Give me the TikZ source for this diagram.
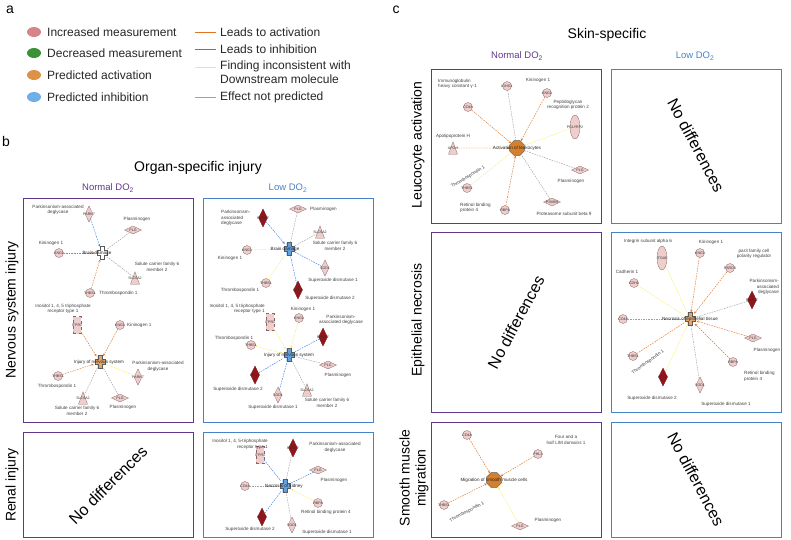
\documentclass[tikz,border=0pt]{standalone}
\usepackage{fontspec}
\setmainfont{Liberation Sans}
\usetikzlibrary{arrows.meta,shapes.geometric}
\definecolor{incpink}{RGB}{214,132,138}
\definecolor{decgreen}{RGB}{60,145,55}
\definecolor{predorange}{RGB}{222,146,72}
\definecolor{predblue}{RGB}{110,175,232}
\definecolor{actline}{RGB}{225,115,35}
\definecolor{inhline}{RGB}{60,125,215}
\definecolor{incline}{RGB}{248,236,90}
\definecolor{nopline}{RGB}{160,160,160}
\definecolor{genefill}{RGB}{238,205,205}
\definecolor{geneline}{RGB}{140,100,100}
\definecolor{darkred}{RGB}{150,20,25}
\definecolor{normpurple}{RGB}{100,55,140}
\definecolor{lowblue}{RGB}{70,130,200}
\definecolor{hubblue}{RGB}{100,160,220}
\definecolor{huborange}{RGB}{228,165,105}
\definecolor{octorange}{RGB}{212,128,45}
\definecolor{hubline}{RGB}{90,90,90}
\newcommand{\gn}[1]{\makebox[0pt]{#1}}
\newcommand{\genefont}{\fontsize{3.6}{4}\selectfont}
\newcommand{\lblfont}{\fontsize{4.6}{5.6}\selectfont}
\tikzset{
  pics/plusmark/.style={code={
    \filldraw[draw=hubline, line width=0.35pt, fill=#1]
      (-2.3,-6.5) -- (2.3,-6.5) -- (2.3,-2.5) -- (5,-2.5) -- (5,2.5) -- (2.3,2.5)
      -- (2.3,6.5) -- (-2.3,6.5) -- (-2.3,2.5) -- (-5,2.5) -- (-5,-2.5) -- (-2.3,-2.5) -- cycle;
  }}
}
\begin{document}
\begin{tikzpicture}[x=1pt, y=-1pt,
    gbase/.style={draw=geneline, fill=genefill, line width=0.3pt, inner sep=0, font=\genefont, text=black!80},
    gene/.style={gbase, circle, minimum size=9},
    gdia/.style={gbase, diamond, minimum width=8, minimum height=16},
    gdark/.style={gdia, fill=darkred, draw=darkred!70!black, minimum width=9, minimum height=18},
    hdia/.style={gbase, diamond, minimum width=17, minimum height=8},
    gtrap/.style={gbase, trapezium, trapezium left angle=70, trapezium right angle=70, minimum width=9, minimum height=7},
    grect/.style={gbase, rectangle, dashed, minimum width=8, minimum height=17},
    gell/.style={gbase, ellipse, minimum width=10, minimum height=24},
    hub/.style={circle, minimum size=13, inner sep=0},
    octo/.style={regular polygon, regular polygon sides=8, minimum size=16, inner sep=0, draw=hubline, line width=0.35pt, fill=octorange},
    lbl/.style={font=\lblfont, align=center, text=black!75, inner sep=0},
    hubtxt/.style={font=\lblfont, text=black!85, inner sep=0},
    edge/.style={line width=0.45pt, dash pattern=on 1.6pt off 1pt},
    act/.style={edge, draw=actline},
    inh/.style={edge, draw=inhline},
    inc/.style={edge, draw=incline},
    nop/.style={edge, draw=nopline},
    tip/.style={-{Stealth[length=2.6pt,width=2.2pt]}},
    normbox/.style={draw=normpurple, line width=0.8pt},
    lowbox/.style={draw=lowblue, line width=0.8pt},
    panel/.style={font=\fontsize{14}{16}\selectfont},
    title/.style={font=\fontsize{14}{16}\selectfont},
    rowtxt/.style={font=\fontsize{14}{16}\selectfont, align=center, rotate=90},
    normtxt/.style={font=\fontsize{9.5}{11}\selectfont, text=normpurple},
    lowtxt/.style={font=\fontsize{9.5}{11}\selectfont, text=lowblue},
    legdot/.style={ellipse, minimum width=14, minimum height=10, inner sep=0},
    legtxt/.style={font=\fontsize{12}{14}\selectfont, anchor=west, align=left, text=black!85, inner sep=0},
    nodiff/.style={font=\fontsize{16}{18}\selectfont}
  ]
\useasboundingbox (0,0) rectangle (791,539);

% Panel a: legend
\node[panel] (pa) at (10,10) {a};
\node[legdot, fill=incpink] (dinc) at (34,32) {};
\node[legdot, fill=decgreen] (ddec) at (34,53) {};
\node[legdot, fill=predorange] (dact) at (34,75) {};
\node[legdot, fill=predblue] (dinh) at (34,97) {};
\node[legtxt] at (47,32) {Increased measurement};
\node[legtxt] at (47,53) {Decreased measurement};
\node[legtxt] at (47,75) {Predicted activation};
\node[legtxt] at (47,97) {Predicted inhibition};
\foreach \yy/\cc [count=\i] in {32/actline, 49/inhline, 67/incline, 97/nopline} {
  \coordinate (lsA\i) at (195,\yy);
  \coordinate (lsB\i) at (216,\yy);
  \draw[\cc, line width=0.7pt] (lsA\i) -- (lsB\i);
}
\node[legtxt] at (220,32) {Leads to activation};
\node[legtxt] at (220,49) {Leads to inhibition};
\node[legtxt] at (220,72) {Finding inconsistent with\\Downstream molecule};
\node[legtxt] at (220,97) {Effect not predicted};

% Panel b: organ-specific injury
\node[panel] (pb) at (6,141) {b};
\node[title] at (198,168) {Organ-specific injury};
\node[normtxt] at (108,188) {Normal DO\textsubscript{2}};
\node[lowtxt] at (288,188) {Low DO\textsubscript{2}};
\node[rowtxt] at (12,310) {Nervous system injury};
\node[rowtxt] at (12,485) {Renal injury};
\draw[normbox] (23,198) rectangle (193,422);
\draw[lowbox] (203,198) rectangle (373,422);
\draw[normbox] (23,432) rectangle (193,537);
\draw[lowbox] (203,432) rectangle (373,537);
\node[nodiff, rotate=45] at (108,485) {No differences};

% Normal DO2, brain damage
\node[hub] (hubA) at (102,253) {};
\pic at (hubA) {plusmark=white};
\node[gdia] (park7A) at (89,214) {\gn{PARK7}};
\node[hdia] (plgA) at (133,230) {\gn{PLG}};
\node[gene] (kng1A) at (59,253) {\gn{KNG1}};
\node[gtrap] (slcA) at (135,278) {\gn{SLC6A2}};
\node[gene] (thbsA) at (90,293) {\gn{THBS1}};
\draw[inh, tip] (park7A) -- (hubA);
\draw[nop] (plgA) -- (hubA);
\draw[act, tip] (kng1A) -- (hubA);
\draw[nop] (slcA) -- (hubA);
\draw[act, tip] (thbsA) -- (hubA);
\node[hubtxt] at (97,253) {Brain damage};
\node[lbl] at (58,210) {Parkinsonism-associated\\deglycase};
\node[lbl] at (137,219) {Plasminogen};
\node[lbl] at (51,243) {Kininogen 1};
\node[lbl] at (157,267) {Solute carrier family 6\\member 2};
\node[lbl, anchor=west] at (99,293) {Thrombospondin 1};

% Normal DO2, injury of nervous system
\node[hub] (hubB) at (100,362) {};
\pic at (hubB) {plusmark=huborange};
\node[grect] (itprB) at (77,325) {\gn{ITPR1}};
\node[gene] (kng1B) at (120,325) {\gn{KNG1}};
\node[gdia] (park7B) at (138,377) {\gn{PARK7}};
\node[gene] (thbsB) at (58,376) {\gn{THBS1}};
\node[gtrap] (slcB) at (83,398) {\gn{SLC6A2}};
\node[hdia] (plgB) at (120,398) {\gn{PLG}};
\draw[act, tip] (itprB) -- (hubB);
\draw[act, tip] (kng1B) -- (hubB);
\draw[act, tip] (thbsB) -- (hubB);
\draw[inc] (park7B) -- (hubB);
\draw[nop] (slcB) -- (hubB);
\draw[nop] (plgB) -- (hubB);
\node[hubtxt] at (99,362) {Injury of nervous system};
\node[lbl] at (63,309) {Inositol 1, 4, 5 triphosphate\\receptor type 1};
\node[lbl, anchor=west] at (127,325) {Kininogen 1};
\node[lbl] at (158,366) {Parkinsonism-associated\\deglycase};
\node[lbl] at (57,386) {Thrombospondin 1};
\node[lbl] at (77,411) {Solute carrier family 6\\member 2};
\node[lbl] at (123,407) {Plasminogen};

% Low DO2, brain damage
\node[hub] (hubC) at (289,249) {};
\pic at (hubC) {plusmark=hubblue};
\node[gdark] (park7C) at (263,218) {\gn{PARK7}};
\node[hdia] (plgC) at (298,209) {\gn{PLG}};
\node[gtrap] (slcC) at (320,232) {\gn{SLC6A2}};
\node[gene] (kng1C) at (247,250) {\gn{KNG1}};
\node[gdia] (sod1C) at (325,268) {\gn{SOD1}};
\node[gene] (thbsC) at (266,283) {\gn{THBS1}};
\node[gdark] (sod2C) at (298,290) {\gn{SOD2}};
\draw[inh, tip] (park7C) -- (hubC);
\draw[nop] (plgC) -- (hubC);
\draw[nop] (slcC) -- (hubC);
\draw[inc] (kng1C) -- (hubC);
\draw[inh] (sod1C) -- (hubC);
\draw[inc] (thbsC) -- (hubC);
\draw[inh] (sod2C) -- (hubC);
\node[hubtxt] at (285,249) {Brain damage};
\node[lbl, anchor=west, align=left] at (221,218) {Parkinsonism-\\associated\\deglycase};
\node[lbl, anchor=west] at (310,209) {Plasminogen};
\node[lbl] at (335,246) {Solute carrier family 6\\member 2};
\node[lbl] at (230,258) {Kininogen 1};
\node[lbl] at (333,280) {Superoxide dismutase 1};
\node[lbl] at (240,290) {Thrombospondin 1};
\node[lbl] at (330,298) {Superoxide dismutase 2};

% Low DO2, injury of nervous system
\node[hub] (hubD) at (289,355) {};
\pic at (hubD) {plusmark=hubblue};
\node[grect] (itprD) at (270,322) {\gn{ITPR1}};
\node[gene] (kng1D) at (299,318) {\gn{KNG1}};
\node[gdark] (park7D) at (323,337) {\gn{PARK7}};
\node[gene] (thbsD) at (251,345) {\gn{THBS1}};
\node[hdia] (plgD) at (328,365) {\gn{PLG}};
\node[gdark] (sod2D) at (255,375) {\gn{SOD2}};
\node[gdia] (sod1D) at (278,395) {\gn{SOD1}};
\node[gtrap] (slcD) at (307,390) {\gn{SLC6A2}};
\draw[inc, tip] (itprD) -- (hubD);
\draw[inc, tip] (kng1D) -- (hubD);
\draw[inc, tip] (thbsD) -- (hubD);
\draw[inh] (park7D) -- (hubD);
\draw[nop] (plgD) -- (hubD);
\draw[inh] (sod2D) -- (hubD);
\draw[inh] (sod1D) -- (hubD);
\draw[nop] (slcD) -- (hubD);
\node[hubtxt] at (289,355) {Injury of nervous system};
\node[lbl, anchor=east, align=right] at (265,309) {Inositol 1, 4, 5 triphosphate\\receptor type 1};
\node[lbl] at (303,309) {Kininogen 1};
\node[lbl] at (341,320) {Parkinsonism-\\associated deglycase};
\node[lbl] at (234,338) {Thrombospondin 1};
\node[lbl] at (338,375) {Plasminogen};
\node[lbl] at (238,389) {Superoxide dismutase 2};
\node[lbl] at (273,407) {Superoxide dismutase 1};
\node[lbl] at (327,403) {Solute carrier family 6\\member 2};

% Low DO2, necrosis of kidney
\node[hub] (hubE) at (285,486) {};
\pic at (hubE) {plusmark=hubblue};
\node[grect] (itprE) at (260,455) {\gn{ITPR1}};
\node[gdark] (park7E) at (293,448) {\gn{PARK7}};
\node[hdia] (plgE) at (318,470) {\gn{PLG}};
\node[gene] (cd44E) at (245,486) {\gn{CD44}};
\node[gene] (rbp4E) at (318,503) {\gn{RBP4}};
\node[gdark] (sod2E) at (262,517) {\gn{SOD2}};
\node[gdia] (sod1E) at (292,525) {\gn{SOD1}};
\draw[inh] (itprE) -- (hubE);
\draw[nop] (park7E) -- (hubE);
\draw[inh] (plgE) -- (hubE);
\draw[nop] (cd44E) -- (hubE);
\draw[inc, tip] (rbp4E) -- (hubE);
\draw[inh] (sod2E) -- (hubE);
\draw[nop] (sod1E) -- (hubE);
\node[hubtxt] at (284,486) {Necrosis of kidney};
\node[lbl, anchor=east, align=right] at (268,444) {Inositol 1, 4, 5-triphosphate\\receptor type 1};
\node[lbl] at (335,447) {Parkinsonism-associated\\deglycase};
\node[lbl] at (334,480) {Plasminogen};
\node[lbl] at (326,512) {Retinol binding protein 4};
\node[lbl] at (250,529) {Superoxide dismutase 2};
\node[lbl] at (327,532) {Superoxide dismutase 1};

% Panel c: skin-specific
\node[panel] (pc) at (396,10) {c};
\node[title] at (607,35) {Skin-specific};
\node[normtxt] at (517,56) {Normal DO\textsubscript{2}};
\node[lowtxt] at (695,56) {Low DO\textsubscript{2}};
\node[rowtxt] at (418,145) {Leucocyte activation};
\node[rowtxt] at (418,320) {Epithelial necrosis};
\node[rowtxt] at (414,478) {Smooth muscle\\migration};
\draw[normbox] (431,69) rectangle (601,223);
\draw[lowbox] (611,69) rectangle (781,223);
\draw[normbox] (431,232) rectangle (601,412);
\draw[lowbox] (611,232) rectangle (781,412);
\draw[normbox] (431,422) rectangle (601,537);
\draw[lowbox] (611,422) rectangle (781,537);
\node[nodiff, rotate=-62] at (696,145) {No differences};
\node[nodiff, rotate=62] at (516,322) {No differences};
\node[nodiff, rotate=-62] at (696,479) {No differences};

% Normal DO2, activation of leukocytes
\node[octo] (hubF) at (517,148) {};
\node[gene] (ighgF) at (507,86) {\gn{IGHG1}};
\node[gene] (kng1F) at (547,93) {\gn{KNG1}};
\node[gene] (cd44F) at (468,107) {\gn{CD44}};
\node[gell] (pglyF) at (575,127) {\gn{PGLYRP2}};
\node[gtrap] (apohF) at (453,148) {\gn{APOH}};
\node[hdia] (plgF) at (580,170) {\gn{PLG}};
\node[gene] (thbsF) at (467,188) {\gn{THBS1}};
\node[gene] (rbp4F) at (505,210) {\gn{RBP4}};
\node[hdia] (psmbF) at (552,202) {\gn{PSMB9}};
\draw[nop] (ighgF) -- (hubF);
\draw[act, tip] (kng1F) -- (hubF);
\draw[act, tip] (cd44F) -- (hubF);
\draw[inc] (pglyF) -- (hubF);
\draw[act, tip] (apohF) -- (hubF);
\draw[nop] (plgF) -- (hubF);
\draw[inc] (thbsF) -- (hubF);
\draw[act, tip] (rbp4F) -- (hubF);
\draw[nop] (psmbF) -- (hubF);
\node[hubtxt] at (517,148) {Activation of leukocytes};
\node[lbl, anchor=west, align=left] at (438,84) {Immunoglobulin\\heavy constant γ-1};
\node[lbl] at (538,80) {Kininogen 1};
\node[lbl] at (568,105) {Peptidoglycan\\recognition protein 2};
\node[lbl] at (453,136) {Apolipoprotein H};
\node[lbl] at (571,181) {Plasminogen};
\node[lbl, rotate=31] at (468,177) {Thrombospondin 1};
\node[lbl, anchor=west, align=left] at (460,208) {Retinol binding\\protein 4};
\node[lbl] at (564,214) {Proteasome subunit beta 9};

% Low DO2, necrosis of epithelial tissue
\node[hub] (hubG) at (690,319) {};
\pic at (hubG) {plusmark=huborange};
\node[gell] (itgaG) at (662,258) {\gn{ITGA6}};
\node[gene] (kng1G) at (700,253) {\gn{KNG1}};
\node[gene] (pardG) at (730,268) {\gn{PARD3}};
\node[gene] (cdh1G) at (634,283) {\gn{CDH1}};
\node[gdark] (park7G) at (752,300) {\gn{PARK7}};
\node[gene] (cd44G) at (623,319) {\gn{CD44}};
\node[hdia] (plgG) at (753,338) {\gn{PLG}};
\node[gene] (thbsG) at (633,356) {\gn{THBS1}};
\node[gene] (rbp4G) at (733,362) {\gn{RBP4}};
\node[gdark] (sod2G) at (663,377) {\gn{SOD2}};
\node[gdia] (sod1G) at (700,385) {\gn{SOD1}};
\draw[inc] (itgaG) -- (hubG);
\draw[act, tip] (kng1G) -- (hubG);
\draw[act, tip] (pardG) -- (hubG);
\draw[inc] (cdh1G) -- (hubG);
\draw[nop] (park7G) -- (hubG);
\draw[nop] (cd44G) -- (hubG);
\draw[act, tip] (plgG) -- (hubG);
\draw[act] (thbsG) -- (hubG);
\draw[act, tip] (rbp4G) -- (hubG);
\draw[inc] (sod2G) -- (hubG);
\draw[nop] (sod1G) -- (hubG);
\node[hubtxt] at (690,319) {Necrosis of epithelial tissue};
\node[lbl] at (648,241) {Integrin subunit alpha 6};
\node[lbl] at (711,242) {Kininogen 1};
\node[lbl] at (754,254) {par3 family cell\\polarity regulator};
\node[lbl] at (627,272) {Cadherin 1};
\node[lbl, anchor=east, align=right] at (779,287) {Parkinsonism-\\associated\\deglycase};
\node[lbl] at (767,350) {Plasminogen};
\node[lbl, rotate=36] at (648,362) {Thrombospondin 1};
\node[lbl, anchor=west, align=left] at (744,376) {Retinol binding\\protein 4};
\node[lbl] at (652,398) {Superoxide dismutase 2};
\node[lbl] at (726,404) {Superoxide dismutase 1};

% Normal DO2, migration of smooth muscle cells
\node[octo] (hubH) at (494,480) {};
\node[gene] (cd44H) at (467,435) {\gn{CD44}};
\node[gene] (fhlH) at (538,454) {\gn{FHL1}};
\node[gene] (thbsH) at (444,505) {\gn{THBS1}};
\node[hdia] (plgH) at (520,526) {\gn{PLG}};
\draw[act, tip] (cd44H) -- (hubH);
\draw[act, tip] (fhlH) -- (hubH);
\draw[act, tip] (thbsH) -- (hubH);
\draw[inc, tip] (plgH) -- (hubH);
\node[hubtxt] at (494,480) {Migration of smooth muscle cells};
\node[lbl] at (566,440) {Four and a\\half LIM domains 1};
\node[lbl, rotate=28] at (467,512) {Thrombospondin 1};
\node[lbl] at (548,520) {Plasminogen};
\end{tikzpicture}
\end{document}
